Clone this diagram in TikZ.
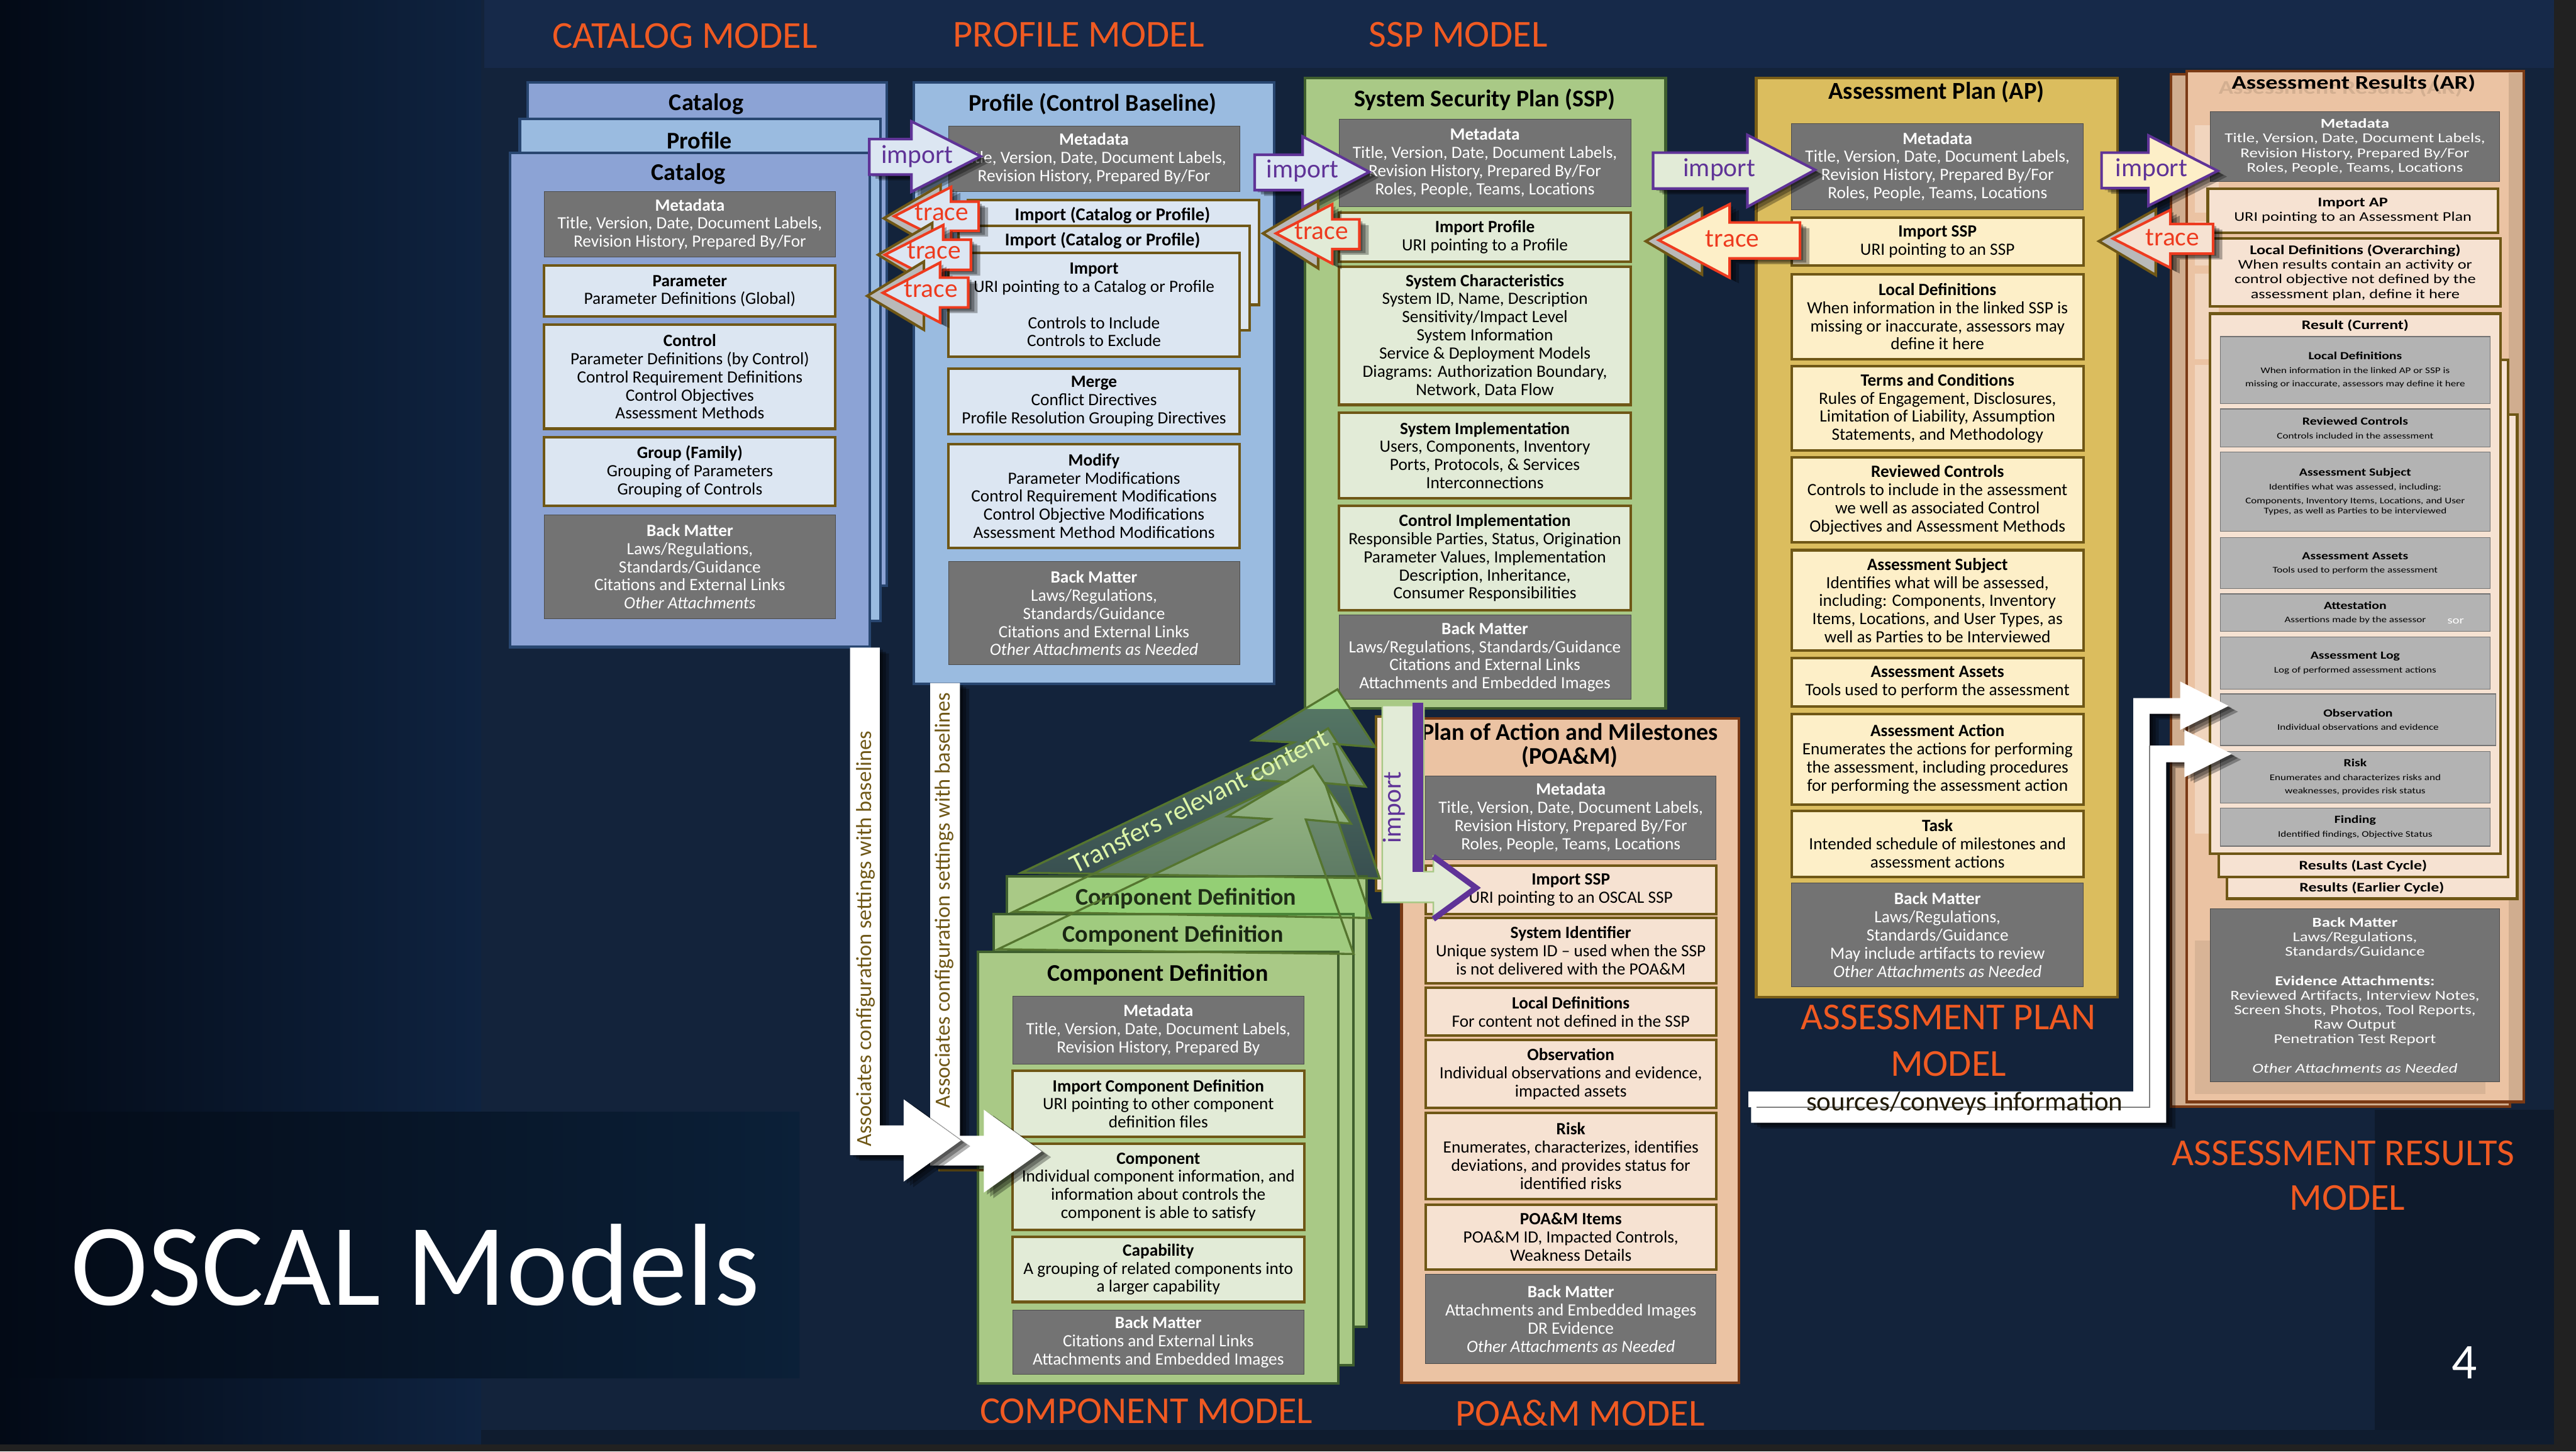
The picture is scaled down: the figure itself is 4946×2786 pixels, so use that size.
\documentclass[tikz,border=0pt]{standalone}
\usepackage{fontspec}
\setmainfont{Carlito}
\newfontfamily\wide[FakeStretch=1.25]{Carlito}
\usetikzlibrary{shadings}
\definecolor{navy}{HTML}{13233B}
\definecolor{navytop}{HTML}{162949}
\definecolor{orng}{HTML}{F05A22}
\definecolor{catfill}{HTML}{8CA3D5}
\definecolor{proffill}{HTML}{9ABBE0}
\definecolor{blueedge}{HTML}{284670}
\definecolor{grn}{HTML}{A9C986}
\definecolor{grnedge}{HTML}{3F5F2E}
\definecolor{arrgrn}{HTML}{55752F}
\definecolor{gold}{HTML}{DBBD5E}
\definecolor{goldedge}{HTML}{7A5E17}
\definecolor{peach}{HTML}{EBC3A3}
\definecolor{peachedge}{HTML}{7A3A15}
\definecolor{tan}{HTML}{D0AD8F}
\definecolor{pblue}{HTML}{DCE6F2}
\definecolor{pgrn}{HTML}{E2EBD7}
\definecolor{pyel}{HTML}{FDEFC8}
\definecolor{ppch}{HTML}{F6E2D2}
\definecolor{brownb}{HTML}{6F5716}
\definecolor{darkg}{HTML}{737373}
\definecolor{lightg}{HTML}{B3B3B3}
\definecolor{purp}{HTML}{5F3397}
\definecolor{redl}{HTML}{EE3B1F}
\tikzset{
  sheet/.style={draw,line width=5pt,inner sep=0pt,outer sep=0pt},
  catsheet/.style={sheet,fill=catfill,draw=blueedge},
  profsheet/.style={sheet,fill=proffill,draw=blueedge},
  grnsheet/.style={sheet,fill=grn,draw=grnedge},
  goldsheet/.style={sheet,fill=gold,draw=goldedge},
  pchsheet/.style={sheet,fill=peach,draw=peachedge},
  tansheet/.style={sheet,fill=tan,draw=peachedge},
  bodytxt/.style={align=center,inner sep=0pt,outer sep=0pt,font=\fontsize{33pt}{34.8pt}\selectfont},
  gbox/.style={bodytxt,fill=darkg,draw=black!70,line width=1pt,text=white},
  lbox/.style={bodytxt,draw=brownb,line width=5pt,text=black},
  bbox/.style={lbox,fill=pblue},
  ggbox/.style={lbox,fill=pgrn},
  ybox/.style={lbox,fill=pyel},
  pbox/.style={lbox,fill=ppch},
  argbox/.style={gbox,font=\wide\fontsize{26pt}{28pt}\selectfont},
  arpbox/.style={pbox,font=\wide\fontsize{25.5pt}{28pt}\selectfont},
  argray/.style={align=center,inner sep=0pt,outer sep=0pt,fill=lightg,draw=black!55,line width=1.5pt,text=black,font=\wide\fontsize{16.5pt}{26pt}\selectfont},
  title/.style={inner sep=0pt,font=\bfseries\fontsize{46pt}{52pt}\selectfont,align=center,text=black},
  model/.style={inner sep=0pt,font=\fontsize{73pt}{88pt}\selectfont,text=orng,align=center},
  arrlabel/.style={inner sep=0pt,font=\fontsize{50pt}{60pt}\selectfont},
  softshadow/.style={preaction={fill=black,opacity=.3,transform canvas={xshift=6pt,yshift=-4pt}},
    preaction={fill=black,opacity=.3,transform canvas={xshift=12pt,yshift=-8pt}},
    preaction={fill=black,opacity=.3,transform canvas={xshift=18pt,yshift=-11pt}}},
  whitearrow/.style={softshadow,fill=white},
  importarr/.style={softshadow,draw=purp,line width=5pt,miter limit=10},
  tracearr/.style={softshadow,draw=redl,line width=5pt,miter limit=10},
  backtri/.style={draw=brownb,line width=5pt,fill=gray!55,miter limit=10},
  transout/.style={draw=arrgrn,line width=4pt,miter limit=10},
  wlabel/.style={inner sep=0pt,rotate=90,text=brownb,font=\fontsize{41.5pt}{46pt}\selectfont},
}
% name, style, x1, y1, x2, y2, text
\newcommand{\bxx}[7]{\node[#2,minimum width={#5-#3},minimum height={#6-#4}] (#1) at ({(#3+#5)/2},{(#4+#6)/2}) {#7};}
\newcommand{\hh}[1]{\textbf{#1}}
% left arrow: tipx tipy basex rightx headtop headbot shafttop shaftbot fill
\newcommand{\larr}[9]{\path[tracearr,fill=#9] (#1,#2) -- (#3,#5) -- (#3,#7) -- (#4,#7) -- (#4,#8) -- (#3,#8) -- (#3,#6) -- cycle;}
% right arrow: tipx tipy basex leftx headtop headbot shafttop shaftbot fill
\newcommand{\rarr}[9]{\path[importarr,fill=#9] (#1,#2) -- (#3,#5) -- (#3,#7) -- (#4,#7) -- (#4,#8) -- (#3,#8) -- (#3,#6) -- cycle;}
\begin{document}
\begin{tikzpicture}[x=1pt,y=-1pt]
\useasboundingbox (0,0) rectangle (4946,2786);
% background
\fill[black!87] (0,0) rectangle (4946,2786);
\definecolor{bgl}{HTML}{030A16}
\definecolor{bgr}{HTML}{0F2340}
\definecolor{pnlr}{HTML}{0B2038}
\shade[left color=bgl,right color=bgr] (0,0) rectangle (930,2772);
\fill[navy] (924,0) rectangle (4904,2745);
\fill[navytop] (930,0) rectangle (4904,130);
\fill[navy!75!black] (4560,2130) rectangle (4904,2772);
\fill[navy!80!black] (924,2745) rectangle (4904,2772);
\shade[left color=bgl,right color=pnlr] (0,2134) rectangle (1535,2645);

% catalog model
\bxx{catback}{catsheet}{1013}{158}{1703}{1124}{}
\bxx{profback}{profsheet}{998}{228}{1690}{1192}{}
\bxx{catfront}{catsheet}{979}{293}{1670}{1242}{}
\node[title] (catt1) at (1356,200) {Catalog};
\node[title] (catt2) at (1343,269) {Profile};
\node[title] (catt3) at (1322,334) {Catalog};
\bxx{catmeta}{gbox}{1045}{368}{1604}{493}{\hh{Metadata}\\Title, Version, Date, Document Labels,\\Revision History, Prepared By/For}
\bxx{catparam}{bbox}{1045}{510}{1604}{607}{\hh{Parameter}\\Parameter Definitions (Global)}
\bxx{catctrl}{bbox}{1045}{623}{1604}{823}{\hh{Control}\\Parameter Definitions (by Control)\\Control Requirement Definitions\\Control Objectives\\Assessment Methods}
\bxx{catgroup}{bbox}{1045}{839}{1604}{971}{\hh{Group (Family)}\\Grouping of Parameters\\Grouping of Controls}
\bxx{catback2}{gbox}{1045}{988}{1604}{1187}{\hh{Back Matter}\\Laws/Regulations,\\Standards/Guidance\\Citations and External Links\\\textit{Other Attachments}}

% profile model
\bxx{prof}{profsheet}{1754}{158}{2446}{1313}{}
\node[title] (proft) at (2098,200) {Profile (Control Baseline)};
\bxx{profmeta}{gbox}{1821}{242}{2380}{367}{\hh{Metadata}\\Title, Version, Date, Document Labels,\\Revision History, Prepared By/For}
\bxx{imp1}{bbox}{1858}{384}{2417}{585}{}
\bxx{imp2}{bbox}{1840}{433}{2399}{634}{}
\bxx{imp3}{bbox}{1821}{485}{2380}{685}{\hh{Import}\\URI pointing to a Catalog or Profile\\ ~ \\Controls to Include\\Controls to Exclude}
\node[bodytxt,font=\fontsize{34.5pt}{36pt}\selectfont] (imp1t) at (2136,413) {\hh{Import (Catalog or Profile)}};
\node[bodytxt,font=\fontsize{34.5pt}{36pt}\selectfont] (imp2t) at (2117,462) {\hh{Import (Catalog or Profile)}};
\bxx{profmerge}{bbox}{1821}{708}{2380}{833}{\hh{Merge}\\Conflict Directives\\Profile Resolution Grouping Directives}
\bxx{profmod}{bbox}{1821}{852}{2380}{1052}{\hh{Modify}\\Parameter Modifications\\Control Requirement Modifications\\Control Objective Modifications\\Assessment Method Modifications}
\bxx{profback2}{gbox}{1821}{1078}{2380}{1276}{\hh{Back Matter}\\Laws/Regulations,\\Standards/Guidance\\Citations and External Links\\\textit{Other Attachments as Needed}}

% SSP
\bxx{ssp}{grnsheet}{2506}{150}{3198}{1360}{}
\node[title] (sspt) at (2851,191) {System Security Plan (SSP)};
\bxx{sspmeta}{gbox}{2571}{229}{3131}{396}{\hh{Metadata}\\Title, Version, Date, Document Labels,\\Revision History, Prepared By/For\\Roles, People, Teams, Locations}
\bxx{sspimp}{ggbox}{2571}{408}{3131}{502}{\hh{Import Profile}\\URI pointing to a Profile}
\bxx{sspchar}{ggbox}{2571}{512}{3131}{777}{\hh{System Characteristics}\\System ID, Name, Description\\Sensitivity/Impact Level\\System Information\\Service \& Deployment Models\\Diagrams: Authorization Boundary,\\Network, Data Flow}
\bxx{sspimpl}{ggbox}{2571}{792}{3131}{956}{\hh{System Implementation}\\Users, Components, Inventory\\Ports, Protocols, \& Services\\Interconnections}
\bxx{sspctrl}{ggbox}{2571}{971}{3131}{1171}{\hh{Control Implementation}\\Responsible Parties, Status, Origination\\Parameter Values, Implementation\\Description, Inheritance,\\Consumer Responsibilities}
\bxx{sspback}{gbox}{2571}{1180}{3131}{1342}{\hh{Back Matter}\\Laws/Regulations, Standards/Guidance\\Citations and External Links\\Attachments and Embedded Images}

% AP
\bxx{ap}{goldsheet}{3372}{150}{4066}{1914}{}
\node[title,font=\bfseries\fontsize{46.5pt}{52pt}\selectfont] (apt) at (3718,177) {Assessment Plan (AP)};
\bxx{apmeta}{gbox}{3440}{237}{4000}{403}{\hh{Metadata}\\Title, Version, Date, Document Labels,\\Revision History, Prepared By/For\\Roles, People, Teams, Locations}
\bxx{apimp}{ybox}{3440}{418}{4000}{510}{\hh{Import SSP}\\URI pointing to an SSP}
\bxx{aploc}{ybox}{3440}{526}{4000}{689}{\hh{Local Definitions}\\When information in the linked SSP is\\missing or inaccurate, assessors may\\define it here}
\bxx{apterms}{ybox}{3440}{703}{4000}{865}{\hh{Terms and Conditions}\\Rules of Engagement, Disclosures,\\Limitation of Liability, Assumption\\Statements, and Methodology}
\bxx{aprev}{ybox}{3440}{878}{4000}{1041}{\hh{Reviewed Controls}\\Controls to include in the assessment\\we well as associated Control\\Objectives and Assessment Methods}
\bxx{apsubj}{ybox}{3440}{1056}{4000}{1249}{\hh{Assessment Subject}\\Identifies what will be assessed,\\including: Components, Inventory\\Items, Locations, and User Types, as\\well as Parties to be Interviewed}
\bxx{apassets}{ybox}{3440}{1263}{4000}{1356}{\hh{Assessment Assets}\\Tools used to perform the assessment}
\bxx{apaction}{ybox}{3440}{1370}{4000}{1544}{\hh{Assessment Action}\\Enumerates the actions for performing\\the assessment, including procedures\\for performing the assessment action}
\bxx{aptask}{ybox}{3440}{1556}{4000}{1683}{\hh{Task}\\Intended schedule of milestones and\\assessment actions}
\bxx{apback}{gbox}{3440}{1695}{4000}{1894}{\hh{Back Matter}\\Laws/Regulations,\\Standards/Guidance\\May include artifacts to review\\\textit{Other Attachments as Needed}}

% AR
\bxx{arback}{tansheet}{4168}{142}{4819}{2124}{}
\bxx{ar}{pchsheet}{4198}{136}{4846}{2115}{}
\fill[tan] (4817,140) rectangle (4843,2112);
\foreach \ya/\yb in {240/408,425/510,525/690,700/1600}{\fill[peach!70!white] (4214,\ya) rectangle (4260,\yb);}
\fill[peach!92!black] (4214,1805) rectangle (4772,2100);
\node[inner sep=0pt,text=tan!90!peach,font=\wide\bfseries\fontsize{37pt}{40pt}\selectfont] (arghost) at (4494,170) {Assessment Results (AR)};
\node[inner sep=0pt,text=black,font=\wide\bfseries\fontsize{37pt}{40pt}\selectfont] (art) at (4519,160) {Assessment Results (AR)};
\bxx{armeta}{argbox}{4244}{214}{4799}{348}{\hh{Metadata}\\Title, Version, Date, Document Labels,\\Revision History, Prepared By/For\\Roles, People, Teams, Locations}
\bxx{arimp}{arpbox}{4239}{362}{4796}{447}{\hh{Import AP}\\URI pointing to an Assessment Plan}
\bxx{arloc}{arpbox}{4243}{458}{4801}{588}{\hh{Local Definitions (Overarching)}\\When results contain an activity or\\control objective not defined by the\\assessment plan, define it here}
\bxx{resb2}{pbox}{4276}{796}{4833}{1725}{}
\bxx{resb1}{pbox}{4260}{691}{4816}{1683}{}
\bxx{res}{pbox}{4243}{602}{4801}{1639}{}
\node[inner sep=0pt,font=\wide\bfseries\fontsize{25pt}{30pt}\selectfont] (rest) at (4522,625) {Result (Current)};
\node[inner sep=0pt,font=\wide\bfseries\fontsize{25pt}{30pt}\selectfont] (res1t) at (4537,1662) {Results (Last Cycle)};
\node[inner sep=0pt,font=\wide\bfseries\fontsize{25pt}{30pt}\selectfont] (res2t) at (4554,1704) {Results (Earlier Cycle)};
\newcommand{\hb}[1]{\textbf{\fontsize{21pt}{26pt}\selectfont #1}}
\bxx{rloc}{argray}{4263}{646}{4781}{775}{\hb{Local Definitions}\\When information in the linked AP or SSP is\\missing or inaccurate, assessors may define it here}
\bxx{rrev}{argray}{4263}{785}{4781}{858}{\hb{Reviewed Controls}\\Controls included in the assessment}
\bxx{rsub}{argray}{4263}{868}{4781}{1020}{\hb{Assessment Subject}\\Identifies what was assessed, including:\\Components, Inventory Items, Locations, and User\\[-6pt]Types, as well as Parties to be interviewed}
\bxx{rass}{argray}{4263}{1032}{4781}{1130}{\hb{Assessment Assets}\\Tools used to perform the assessment}
\bxx{ratt}{argray}{4263}{1140}{4781}{1212}{\hb{Attestation}\\Assertions made by the assessor}
\node[inner sep=0pt,text=white,font=\wide\fontsize{20pt}{24pt}\selectfont] (sor) at (4715,1192) {sor};
\bxx{rlog}{argray}{4263}{1223}{4781}{1323}{\hb{Assessment Log}\\Log of performed assessment actions}
\bxx{robs}{argray}{4263}{1332}{4792}{1431}{\hb{Observation}\\Individual observations and evidence}
\bxx{rrisk}{argray}{4263}{1442}{4781}{1541}{\hb{Risk}\\Enumerates and characterizes risks and\\weaknesses, provides risk status}
\bxx{rfind}{argray}{4263}{1551}{4781}{1624}{\hb{Finding}\\Identified findings, Objective Status}
\bxx{arbm}{argbox}{4244}{1744}{4799}{2076}{\hh{Back Matter}\\Laws/Regulations,\\Standards/Guidance\\ ~ \\\hh{Evidence Attachments:}\\Reviewed Artifacts, Interview Notes,\\Screen Shots, Photos, Tool Reports,\\Raw Output\\Penetration Test Report\\ ~ \\\textit{Other Attachments as Needed}}

% import / trace arrows
\rarr{1883}{300}{1750}{1669}{233}{368}{267}{335}{pblue}
\node[arrlabel,text=purp] (im1) at (1761,300) {import};
\path[backtri] (1697,419) -- (1806,355) -- (1806,482) -- cycle;
\larr{1717}{415}{1826}{1879}{359}{470}{387}{443}{pblue}
\node[arrlabel,text=redl] (tr1) at (1808,408) {trace};
\path[backtri] (1686,489) -- (1790,428) -- (1790,552) -- cycle;
\larr{1699}{489}{1811}{1864}{432}{547}{460}{518}{pblue}
\node[arrlabel,text=redl] (tr2) at (1793,481) {trace};
\path[backtri] (1665,568) -- (1774,502) -- (1774,633) -- cycle;
\larr{1695}{562}{1805}{1859}{504}{619}{533}{590}{pblue}
\node[arrlabel,text=redl] (tr3) at (1787,555) {trace};
\rarr{2629}{330}{2501}{2409}{262}{398}{297}{365}{pblue}
\node[arrlabel,text=purp] (im2) at (2501,328) {import};
\path[backtri] (2425,448) -- (2531,385) -- (2531,515) -- cycle;
\larr{2450}{448}{2558}{2610}{392}{506}{421}{478}{pgrn}
\node[arrlabel,text=redl] (tr4) at (2537,444) {trace};
\rarr{3485}{326}{3355}{3174}{259}{397}{293}{362}{pgrn}
\node[arrlabel,text=purp] (im3) at (3301,326) {import};
\path[backtri] (3160,463) -- (3268,400) -- (3268,527) -- cycle;
\larr{3185}{461}{3321}{3456}{392}{533}{427}{496}{pyel}
\node[arrlabel,text=redl] (tr5) at (3326,458) {trace};
\rarr{4258}{328}{4125}{4035}{260}{395}{293}{361}{pyel}
\node[arrlabel,text=purp] (im4) at (4131,326) {import};
\path[backtri] (4030,463) -- (4139,402) -- (4139,528) -- cycle;
\larr{4057}{458}{4167}{4249}{403}{514}{430}{487}{ppch}
\node[arrlabel,text=redl] (tr6) at (4171,456) {trace};

% POA&M
\bxx{poaback}{lbox,fill=ppch}{2642}{1375}{2700}{1710}{}
\bxx{poa}{pchsheet}{2691}{1379}{3339}{2654}{}
\node[title,font=\bfseries\fontsize{46pt}{46pt}\selectfont] (poat) at (3014,1431) {Plan of Action and Milestones\\(POA\&M)};
\bxx{poameta}{gbox}{2737}{1489}{3295}{1650}{\hh{Metadata}\\Title, Version, Date, Document Labels,\\Revision History, Prepared By/For\\Roles, People, Teams, Locations}
\bxx{poaimp}{pbox}{2737}{1662}{3295}{1754}{\hh{Import SSP}\\URI pointing to an OSCAL SSP}
\bxx{poasys}{pbox}{2737}{1762}{3295}{1887}{\hh{System Identifier}\\Unique system ID – used when the SSP\\is not delivered with the POA\&M}
\bxx{poaloc}{pbox}{2737}{1896}{3295}{1988}{\hh{Local Definitions}\\For content not defined in the SSP}
\bxx{poaobs}{pbox}{2737}{1996}{3295}{2126}{\hh{Observation}\\Individual observations and evidence,\\impacted assets}
\bxx{poarisk}{pbox}{2737}{2136}{3295}{2302}{\hh{Risk}\\Enumerates, characterizes, identifies\\deviations, and provides status for\\identified risks}
\bxx{poaitems}{pbox}{2737}{2312}{3295}{2437}{\hh{POA\&M Items}\\POA\&M ID, Impacted Controls,\\Weakness Details}
\bxx{poabm}{gbox}{2737}{2446}{3295}{2617}{\hh{Back Matter}\\Attachments and Embedded Images\\DR Evidence\\\textit{Other Attachments as Needed}}

% SSP -> POA import arrow
\path[fill=pgrn,draw=grn,line width=3pt] (2654,1354) -- (2734,1354) -- (2734,1673) -- (2752,1673) -- (2752,1644) -- (2834,1704) -- (2752,1764) -- (2752,1732) -- (2654,1732) -- cycle;
\draw[purp,line width=20pt] (2722,1349) -- (2722,1673);
\draw[purp,line width=11pt,miter limit=10] (2752,1644) -- (2834,1704) -- (2752,1764);
\node[arrlabel,rotate=90,text=purp] (im5) at (2677,1550) {import};

% transfers arrows (fills)
\definecolor{aat}{HTML}{587A66}
\definecolor{aab}{HTML}{384F50}
\definecolor{abt}{HTML}{7C9B77}
\definecolor{abb}{HTML}{56725F}
\definecolor{act}{HTML}{98B883}
\definecolor{acb}{HTML}{6F906F}
\path[top color=aat,bottom color=aab] (2568,1323) -- (2640,1434) -- (2561,1428) -- (2649,1686) -- (1961,1675) -- (2484,1425) -- (2405,1421) -- cycle;
\begin{scope}
\clip (2400,1300) rectangle (2700,1360);
\fill[green!12!grn!90!white] (2568,1323) -- (2640,1434) -- (2561,1428) -- (2649,1686) -- (1961,1675) -- (2484,1425) -- (2405,1421) -- cycle;
\end{scope}
\path[top color=abt,bottom color=abb] (2550,1398) -- (2622,1510) -- (2544,1503) -- (2632,1762) -- (1946,1750) -- (2469,1501) -- (2392,1495) -- cycle;
\path[top color=act,bottom color=acb] (2521,1470) -- (2594,1581) -- (2507,1573) -- (2599,1831) -- (1916,1822) -- (2438,1572) -- (2357,1567) -- cycle;

% component model
\bxx{cmp1}{grnsheet}{1933}{1682}{2624}{2547}{}
\bxx{cmp2}{grnsheet}{1908}{1754}{2599}{2620}{}
\bxx{cmp3}{grnsheet}{1878}{1827}{2570}{2655}{}
\begin{scope}
\clip (1900,1685) rectangle (2700,1825);
\fill[green!40!grn,opacity=.2] (2550,1398) -- (2622,1510) -- (2544,1503) -- (2632,1762) -- (1946,1750) -- (2469,1501) -- (2392,1495) -- cycle;
\fill[green!40!grn,opacity=.12] (2521,1470) -- (2594,1581) -- (2507,1573) -- (2599,1831) -- (1916,1822) -- (2438,1572) -- (2357,1567) -- cycle;
\end{scope}
\node[title,text=black!50!grnedge] (cmpt1) at (2277,1725) {Component Definition};
\node[title,text=black!60!grnedge] (cmpt2) at (2252,1796) {Component Definition};
\node[title] (cmpt3) at (2223,1871) {Component Definition};
\path[transout] (2568,1323) -- (2640,1434) -- (2561,1428) -- (2649,1686) -- (1961,1675) -- (2484,1425) -- (2405,1421) -- cycle;
\path[transout] (2550,1398) -- (2622,1510) -- (2544,1503) -- (2632,1762) -- (1946,1750) -- (2469,1501) -- (2392,1495) -- cycle;
\path[transout] (2521,1470) -- (2594,1581) -- (2507,1573) -- (2599,1831) -- (1916,1822) -- (2438,1572) -- (2357,1567) -- cycle;
\definecolor{transc}{HTML}{DDF5A8}
\node[inner sep=0pt,rotate=27,text=transc,font=\fontsize{52pt}{60pt}\selectfont] (trans) at (2302,1537) {Transfers relevant content};
\bxx{cmeta}{gbox}{1944}{1912}{2504}{2042}{\hh{Metadata}\\Title, Version, Date, Document Labels,\\Revision History, Prepared By}
\bxx{cimp}{ggbox}{1944}{2055}{2504}{2182}{\hh{Import Component Definition}\\URI pointing to other component\\definition files}
\bxx{ccomp}{ggbox}{1944}{2195}{2504}{2361}{\hh{Component}\\Individual component information, and\\information about controls the\\component is able to satisfy}
\bxx{ccap}{ggbox}{1944}{2374}{2504}{2499}{\hh{Capability}\\A grouping of related components into\\a larger capability}
\bxx{cbm}{gbox}{1944}{2514}{2504}{2638}{\hh{Back Matter}\\Citations and External Links\\Attachments and Embedded Images}

% white associating arrows
\fill[brownb] (1802,2243) rectangle (1889,2248);
\path[whitearrow] (1786,1311) -- (1843,1311) -- (1843,2180) -- (1889,2180) -- (1889,2130) -- (2000,2210) -- (1889,2289) -- (1889,2237) -- (1786,2237) -- cycle;
\path[whitearrow] (1632,1243) -- (1689,1243) -- (1689,2160) -- (1735,2160) -- (1735,2110) -- (1845,2189) -- (1735,2268) -- (1735,2217) -- (1632,2217) -- cycle;
\node[wlabel] (assoc1) at (1662,1802) {Associates configuration settings with baselines};
\node[wlabel] (assoc2) at (1813,1728) {Associates configuration settings with baselines};

% white sources arrows
\path[whitearrow] (3357,2095) -- (4096,2095) -- (4096,1340) -- (4186,1340) -- (4186,1308) -- (4279,1355) -- (4186,1401) -- (4186,1370) -- (4127,1370) -- (4127,2125) -- (3357,2125) -- cycle;
\path[whitearrow] (3362,2125) -- (4127,2125) -- (4127,1431) -- (4194,1431) -- (4194,1401) -- (4285,1447) -- (4194,1492) -- (4194,1463) -- (4159,1463) -- (4159,2155) -- (3362,2155) -- cycle;
\draw[gray,line width=3pt] (3372,2125) -- (4127,2125) -- (4127,1431);
\node[inner sep=0pt,text=black!70!brownb,font=\fontsize{52pt}{60pt}\selectfont] (sources) at (3772,2118) {sources/conveys information};

% model titles
\node[model] (m1) at (1315,69) {CATALOG MODEL};
\node[model] (m2) at (2071,67) {PROFILE MODEL};
\node[model] (m3) at (2800,66) {SSP MODEL};
\node[model] (m4) at (3741,1953) {ASSESSMENT PLAN};
\node[model] (m4b) at (3741,2042) {MODEL};
\node[model] (m5) at (4499,2213) {ASSESSMENT RESULTS};
\node[model] (m5b) at (4507,2299) {MODEL};
\node[model] (m6) at (2201,2709) {COMPONENT MODEL};
\node[model] (m7) at (3034,2712) {POA\&M MODEL};
\node[anchor=base west,inner sep=0pt,text=white,font=\fontsize{224pt}{260pt}\selectfont] (osc) at (136,2505) {OSCAL Models};
\node[inner sep=0pt,text=white,font=\fontsize{96pt}{110pt}\selectfont] (pnum) at (4732,2616) {4};
\end{tikzpicture}
\end{document}
